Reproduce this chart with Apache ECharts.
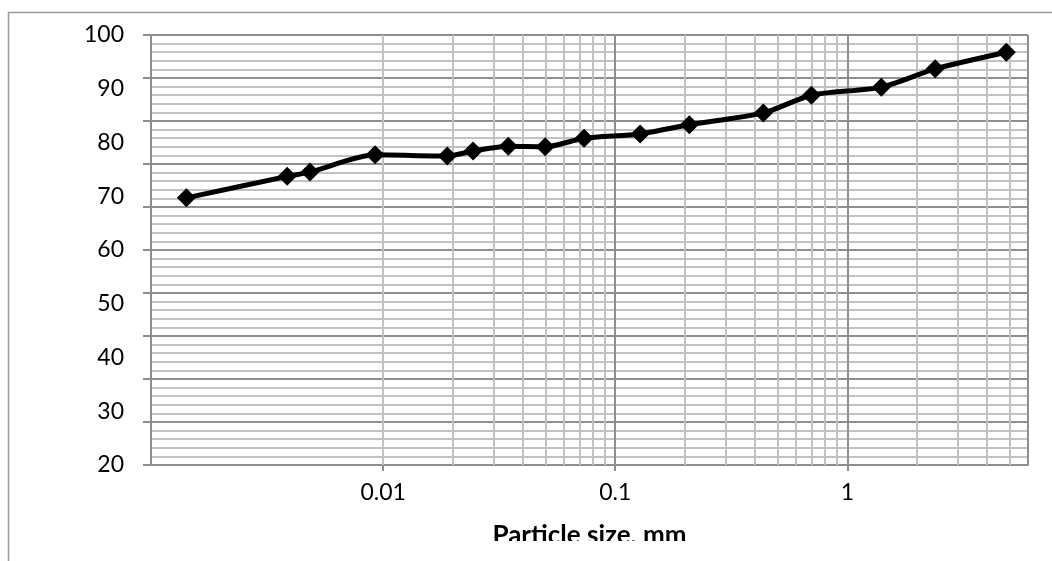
<!DOCTYPE html>
<html>
<head>
<meta charset="utf-8">
<style>
  html, body { margin: 0; padding: 0; background: #fff; }
  #chart { width: 1052px; height: 561px; }
</style>
<script src="https://cdn.jsdelivr.net/npm/echarts@6/dist/echarts.min.js"></script>
</head>
<body>
<div id="chart"></div>
<script>
// particle size (mm) and percent passing
var sizes = [0.00142, 0.00386, 0.00484, 0.00924, 0.0189, 0.0244, 0.0346, 0.0499, 0.0734, 0.128, 0.2085, 0.4345, 0.700, 1.40, 2.39, 4.84];
var passing = [69.7, 73.7, 74.5, 77.7, 77.5, 78.4, 79.3, 79.2, 80.8, 81.6, 83.3, 85.5, 88.8, 90.3, 93.7, 96.8];

// minor vertical grid lines (2..9 within each decade)
var minorX = [0.002, 0.003, 0.004, 0.005, 0.006, 0.007, 0.008, 0.009,
              0.02, 0.03, 0.04, 0.05, 0.06, 0.07, 0.08, 0.09,
              0.2, 0.3, 0.4, 0.5, 0.6, 0.7, 0.8, 0.9,
              2, 3, 4, 5];

var xTitle = 'Particle size, mm';

var major = '#8e8e8e';
var minor = '#c2c2c2';
var font = 'Lato, "Open Sans", sans-serif';

var chart = echarts.init(document.getElementById('chart'), null, { renderer: 'canvas' });
chart.setOption({
  animation: false,
  grid: { left: 151, top: 35, right: 24, bottom: 96, containLabel: false },
  xAxis: {
    type: 'log',
    logBase: 10,
    min: 0.001,
    max: 6,
    name: xTitle,
    nameLocation: 'middle',
    nameGap: 58,
    nameTextStyle: { color: '#000', fontFamily: font, fontSize: 26, fontWeight: 'bold' },
    axisLine: { lineStyle: { color: major, width: 2 } },
    axisTick: { show: true, inside: false, length: 6, lineStyle: { color: major, width: 2 } },
    axisLabel: {
      color: '#000', fontFamily: font, fontSize: 23, margin: 16,
      showMinLabel: false, showMaxLabel: false,
      formatter: function (v) { return String(+v.toPrecision(6)); }
    },
    splitLine: { show: true, lineStyle: { color: major, width: 2 } }
  },
  yAxis: [
    {
      // grid lines and ticks: ten bands, each split into five
      type: 'value',
      min: 20,
      max: 100,
      interval: 8,
      axisLine: { show: true, lineStyle: { color: major, width: 2 } },
      axisTick: { show: true, inside: false, length: 8, lineStyle: { color: major, width: 2 } },
      axisLabel: { show: false },
      splitLine: { show: true, lineStyle: { color: major, width: 2 } },
      minorTick: { show: false, splitNumber: 5 },
      minorSplitLine: { show: true, lineStyle: { color: minor, width: 2 } }
    },
    {
      // labels only, every 10
      type: 'value',
      position: 'left',
      min: 20,
      max: 100,
      interval: 10,
      axisLine: { show: false },
      axisTick: { show: false },
      splitLine: { show: false },
      axisLabel: { color: '#000', fontFamily: font, fontSize: 23, margin: 27 }
    }
  ],
  series: [
    {
      type: 'line',
      data: [],
      z: 1,
      silent: true,
      markLine: {
        silent: true,
        symbol: 'none',
        label: { show: false },
        lineStyle: { color: minor, width: 2, type: 'solid' },
        emphasis: { disabled: true },
        data: minorX.map(function (v) { return { xAxis: v }; })
      }
    },
    {
      type: 'line',
      z: 5,
      yAxisIndex: 1,
      data: sizes.map(function (s, i) { return [s, passing[i]]; }),
      smooth: 0.25,
      symbol: 'diamond',
      symbolSize: 19,
      showAllSymbol: true,
      lineStyle: { color: '#000', width: 5 },
      itemStyle: { color: '#000' }
    }
  ],
  graphic: [
    {
      type: 'rect',
      z: 100,
      shape: { x: 9, y: 541, width: 1060, height: 40 },
      style: { fill: '#fff' }
    },
    {
      type: 'rect',
      z: 101,
      shape: { x: 8.5, y: 12.5, width: 1100, height: 600 },
      style: { fill: 'none', stroke: '#9a9a9a', lineWidth: 1.5 }
    }
  ]
});
</script>
</body>
</html>
